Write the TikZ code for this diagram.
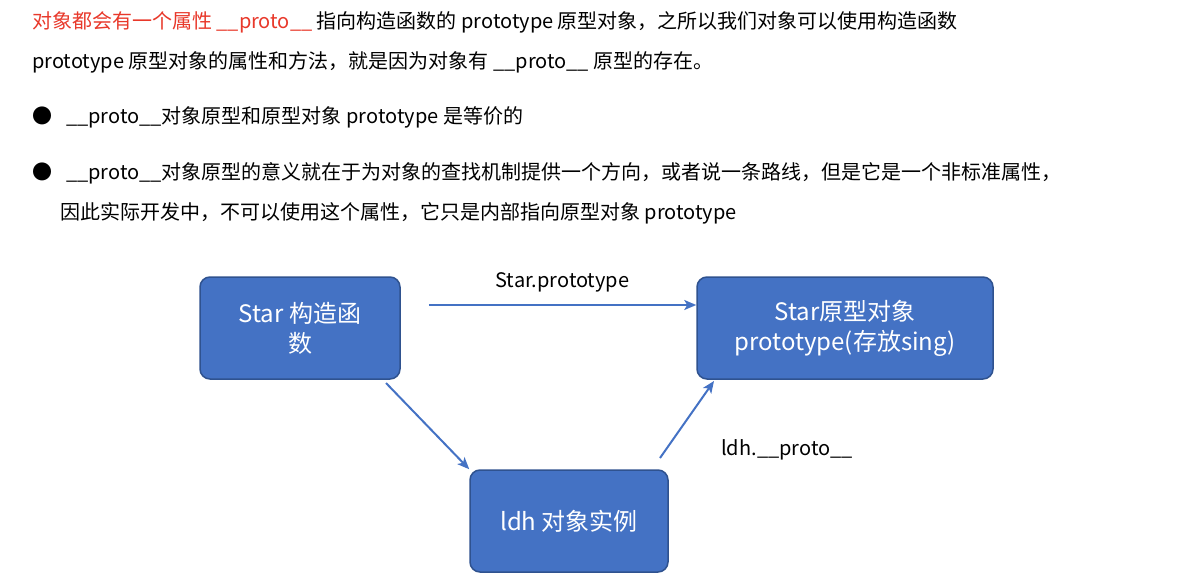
\documentclass[tikz,border=0pt]{standalone}
\usepackage{fontspec}
\setmainfont{Noto Sans CJK SC}
\usetikzlibrary{arrows.meta}
\definecolor{boxblue}{HTML}{4472C4}
\definecolor{boxline}{HTML}{2F528F}
\definecolor{notered}{HTML}{E8382A}
\begin{document}
\begin{tikzpicture}[x=1pt,y=-1pt]
    \tikzset{objbox/.style={draw=boxline,line width=1.5pt,fill=boxblue,rounded corners=10pt,
        text=white,font=\fontsize{24}{30}\selectfont,align=center,minimum height=102pt}}
    \tikzset{link/.style={draw=boxblue,line width=2pt,-{Stealth[length=12pt,width=10pt,inset=3pt]}}}
    \tikzset{para/.style={anchor=west,inner sep=0pt,font=\fontsize{20}{24}\selectfont}}
    \tikzset{lbl/.style={font=\fontsize{20}{24}\selectfont}}
    \useasboundingbox (0,0) rectangle (1200,584);
    % text above the picture
    \node[para] (t1) at (32,22) {\textcolor{notered}{对象都会有一个属性 \_\_proto\_\_} 指向构造函数的 prototype 原型对象，之所以我们对象可以使用构造函数};
    \node[para] (t2) at (32,62) {prototype 原型对象的属性和方法，就是因为对象有 \_\_proto\_\_ 原型的存在。};
    \node[para] (b1) at (32,117) {●\hspace{14pt}\_\_proto\_\_对象原型和原型对象 prototype 是等价的};
    \node[para] (b2) at (32,173) {●\hspace{14pt}\_\_proto\_\_对象原型的意义就在于为对象的查找机制提供一个方向，或者说一条路线，但是它是一个非标准属性，};
    \node[para] (b3) at (60,213) {因此实际开发中，不可以使用这个属性，它只是内部指向原型对象 prototype};
    % boxes
    \node[objbox,minimum width=200pt] (star) at (300,328) {Star 构造函\\数};
    \node[objbox,minimum width=296pt] (proto) at (845,328) {Star原型对象\\prototype(存放sing)};
    \node[objbox,minimum width=198pt] (ldh) at (569,521) {ldh 对象实例};
    % arrows
    \draw[link] (star.east) ++(28,-23) coordinate (s1) -- (s1 -| proto.west) node[pos=0.5,above=8pt,lbl,text=black] {Star.prototype};
    \draw[link] (386,383) -- (ldh.north west);
    \draw[link] (660,458) -- (714,381);
    \node[lbl] (lp) at (787,450) {ldh.\_\_proto\_\_};
\end{tikzpicture}
\end{document}
